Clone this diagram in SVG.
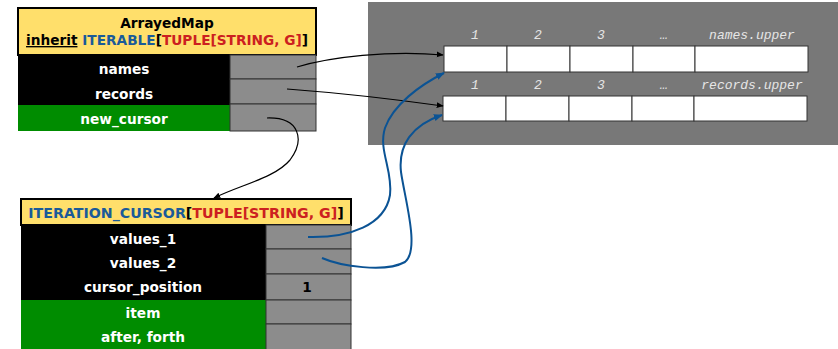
<svg xmlns="http://www.w3.org/2000/svg" width="838" height="349" viewBox="0 0 838 349">
<defs>
<marker id="ab" viewBox="0 0 10 10" refX="9" refY="5" markerWidth="7" markerHeight="7" orient="auto" markerUnits="userSpaceOnUse"><path d="M0,1 L10,5 L0,9 z" fill="#000"/></marker>
<marker id="au" viewBox="0 0 10 10" refX="9" refY="5" markerWidth="9" markerHeight="9" orient="auto" markerUnits="userSpaceOnUse"><path d="M0,1 L10,5 L0,9 z" fill="#0b5394"/></marker>
<style>
.hdr{fill:#ffdf6b;stroke:#000;stroke-width:2}
.lbl{fill:#000}
.grn{fill:#008c00}
.cell{fill:#8c8c8c;stroke:#333;stroke-width:1}
.t{font-family:"DejaVu Sans",Verdana,sans-serif;font-weight:bold;font-size:13.7px;text-anchor:middle}
.w{fill:#fff}
.blue{fill:#1a5a99}
.red{fill:#cc2020}
.arr{fill:#fff;stroke:#333;stroke-width:1}
.idx{font-family:"Liberation Mono","Courier New",monospace;font-style:italic;font-size:13px;fill:#e6e6e6;text-anchor:middle}
.cb{fill:none;stroke:#000;stroke-width:1.2}
.cu{fill:none;stroke:#0b5394;stroke-width:2}
</style>
</defs>
<g id="memory">
<rect x="368" y="2" width="472" height="143" fill="#787878"/>
<g id="names_array">
<rect class="arr" x="444" y="46" width="63" height="26"/>
<rect class="arr" x="507" y="46" width="63" height="26"/>
<rect class="arr" x="570" y="46" width="63" height="26"/>
<rect class="arr" x="633" y="46" width="62" height="26"/>
<rect class="arr" x="695" y="46" width="113" height="26"/>
<text class="idx" x="475" y="39">1</text>
<text class="idx" x="538" y="39">2</text>
<text class="idx" x="601" y="39">3</text>
<text class="idx" x="664" y="39">…</text>
<text class="idx" x="752" y="39">names.upper</text>
</g>
<g id="records_array">
<rect class="arr" x="443" y="96" width="63" height="25"/>
<rect class="arr" x="506" y="96" width="63" height="25"/>
<rect class="arr" x="569" y="96" width="63" height="25"/>
<rect class="arr" x="632" y="96" width="62" height="25"/>
<rect class="arr" x="694" y="96" width="113" height="25"/>
<text class="idx" x="475" y="89">1</text>
<text class="idx" x="538" y="89">2</text>
<text class="idx" x="601" y="89">3</text>
<text class="idx" x="664" y="89">…</text>
<text class="idx" x="752" y="89">records.upper</text>
</g>
</g>
<g id="arrayed_map">
<rect class="hdr" x="18" y="8" width="298" height="47"/>
<text class="t" x="167" y="28" fill="#000">ArrayedMap</text>
<text class="t" x="167" y="45"><tspan fill="#000" text-decoration="underline">inherit</tspan> <tspan class="blue">ITERABLE</tspan><tspan fill="#000">[</tspan><tspan class="red">TUPLE[STRING, G]</tspan><tspan fill="#000">]</tspan></text>
<rect class="lbl" x="18" y="55" width="212" height="50"/>
<rect class="grn" x="18" y="105" width="212" height="26"/>
<rect class="cell" x="230" y="55" width="86" height="24"/>
<rect class="cell" x="230" y="79" width="86" height="25"/>
<rect class="cell" x="230" y="104" width="86" height="27"/>
<text class="t w" x="124" y="74">names</text>
<text class="t w" x="124" y="99">records</text>
<text class="t w" x="124" y="124">new_cursor</text>
</g>
<g id="iteration_cursor">
<rect class="hdr" x="21" y="199" width="330" height="26"/>
<text class="t" x="186" y="218" style="font-size:14.2px"><tspan class="blue">ITERATION_CURSOR</tspan><tspan fill="#000">[</tspan><tspan class="red">TUPLE[STRING, G]</tspan><tspan fill="#000">]</tspan></text>
<rect class="lbl" x="21" y="225" width="245" height="75"/>
<rect class="grn" x="21" y="300" width="245" height="50"/>
<rect class="cell" x="266" y="225" width="85" height="24"/>
<rect class="cell" x="266" y="249" width="85" height="25"/>
<rect class="cell" x="266" y="274" width="85" height="26"/>
<rect class="cell" x="266" y="300" width="85" height="24"/>
<rect class="cell" x="266" y="324" width="85" height="26"/>
<text class="t w" x="143" y="244">values_1</text>
<text class="t w" x="143" y="268">values_2</text>
<text class="t w" x="143" y="292">cursor_position</text>
<text class="t" x="307" y="292" fill="#000">1</text>
<text class="t w" x="143" y="318">item</text>
<text class="t w" x="143" y="342">after, forth</text>
</g>
<g id="connectors">
<path class="cb" d="M297,67 C330,57 390,50 443,55" marker-end="url(#ab)"/>
<path class="cb" d="M287,89 C340,93 400,100 443,106" marker-end="url(#ab)"/>
<path class="cb" d="M267,118 C300,117 305,140 290,160 C275,178 240,185 214,198" marker-end="url(#ab)"/>
<path class="cu" d="M308,237 C350,238 385,225 390,195 C393,170 378,150 385,128 C393,105 420,85 444,73" marker-end="url(#au)"/>
<path class="cu" d="M322,258 C340,266 385,273 405,262 C420,250 405,200 401,172 C398,145 412,125 442,115" marker-end="url(#au)"/>
</g>
</svg>
